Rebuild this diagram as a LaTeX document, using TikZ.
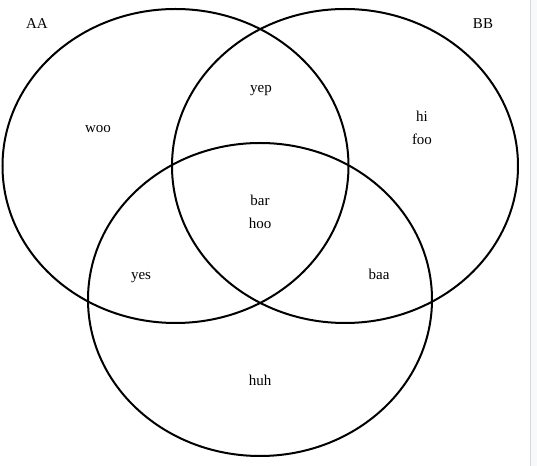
\documentclass[tikz,border=0pt]{standalone}
\usepackage{fontspec}
\setmainfont{Liberation Serif}
\usepackage{tikz}

\begin{document}
\begin{tikzpicture}[x=0.75pt, y=-0.75pt,
  setline/.style={line width=1.5pt},
  setlabel/.style={anchor=base, inner sep=0pt, font=\fontsize{11.25}{17.25}\selectfont}]
\useasboundingbox (0,0) rectangle (537,466);
\fill [white] (0,0) rectangle (537,466);
\fill [color={rgb,255:red,248;green,249;blue,251}] (531,0) rectangle (537,466);
\draw [color={rgb,255:red,216;green,216;blue,220}, line width=0.75pt] (530.5,0) -- (530.5,466);
% the three sets
\draw [setline] (175.5,166) ellipse [x radius=173, y radius=157];
\draw [setline] (345,166) ellipse [x radius=173, y radius=157];
\draw [setline] (260,299.5) ellipse [x radius=172, y radius=156.5];
% set names
\node [setlabel] (aa) at (37,29) {AA};
\node [setlabel] (bb) at (483,29) {BB};
% regions
\node [setlabel] (woo) at (98,133) {woo};
\node [setlabel] (yep) at (261,93) {yep};
\node [setlabel] (hi) at (422,122) {hi};
\node [setlabel] (foo) at (422,145) {foo};
\node [setlabel] (bar) at (260,206) {bar};
\node [setlabel] (hoo) at (260,228.5) {hoo};
\node [setlabel] (yes) at (141,280) {yes};
\node [setlabel] (baa) at (379,280) {baa};
\node [setlabel] (huh) at (260,386) {huh};
\end{tikzpicture}
\end{document}
